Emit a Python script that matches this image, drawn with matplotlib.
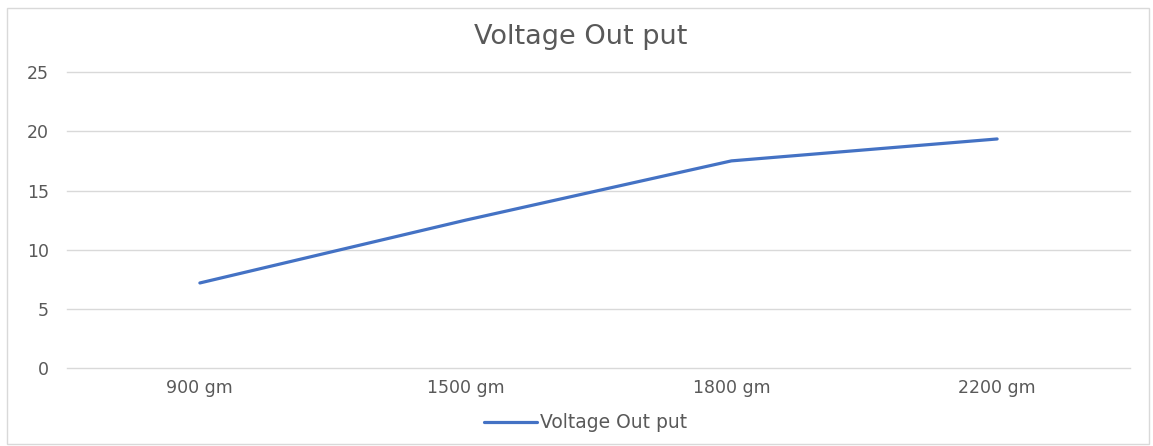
import matplotlib
matplotlib.use("Agg")
import matplotlib.pyplot as plt
from matplotlib.patches import Rectangle

categories = ["900 gm", "1500 gm", "1800 gm", "2200 gm"]
voltage = [7.2, 12.5, 17.5, 19.35]
y_ticks = [0, 5, 10, 15, 20, 25]
series_name = "Voltage Out put"
title = "Voltage Out put"

W, H = 1153, 446
plt.rcParams["font.family"] = ["DejaVu Sans"]
text_color = "#595959"
grid_color = "#d9d9d9"
line_color = "#4472c4"

fig = plt.figure(figsize=(W / 100, H / 100), dpi=100)
fig.patch.set_facecolor("white")

# chart-area border
fig.patches.append(Rectangle((7 / W, 1 - 444 / H), (1149 - 7) / W, (444 - 8) / H,
                             transform=fig.transFigure, fill=False,
                             edgecolor=grid_color, linewidth=1.0))

ax = fig.add_axes([67 / W, 1 - 368.3 / H, (1130 - 67) / W, (368.3 - 72) / H])
x = list(range(len(categories)))
ax.plot(x, voltage, color=line_color, linewidth=2.3, solid_capstyle="round",
        label=series_name, zorder=3)

ax.set_xlim(-0.5, len(categories) - 0.5)
ax.set_ylim(y_ticks[0], y_ticks[-1])
ax.set_yticks(y_ticks)
ax.set_xticks(x)
ax.set_xticklabels(categories)
for s in ax.spines.values():
    s.set_visible(False)
ax.grid(axis="y", color=grid_color, linewidth=1.0)
for gl in ax.get_ygridlines():
    gl.set_clip_on(False)
ax.set_axisbelow(True)
ax.tick_params(axis="both", length=0, colors=text_color, labelsize=12.5)
ax.tick_params(axis="y", pad=13)
ax.tick_params(axis="x", pad=8)

fig.text(581 / W, 1 - 37 / H, title, ha="center", va="center",
         fontsize=19.5, color=text_color)

leg = fig.legend(loc="center", bbox_to_anchor=(585.5 / W, 1 - 423 / H),
                 frameon=False, fontsize=13.5, handlelength=2.8,
                 handletextpad=0.15, labelcolor=text_color)

fig.savefig("out.png", dpi=100, facecolor="white")
